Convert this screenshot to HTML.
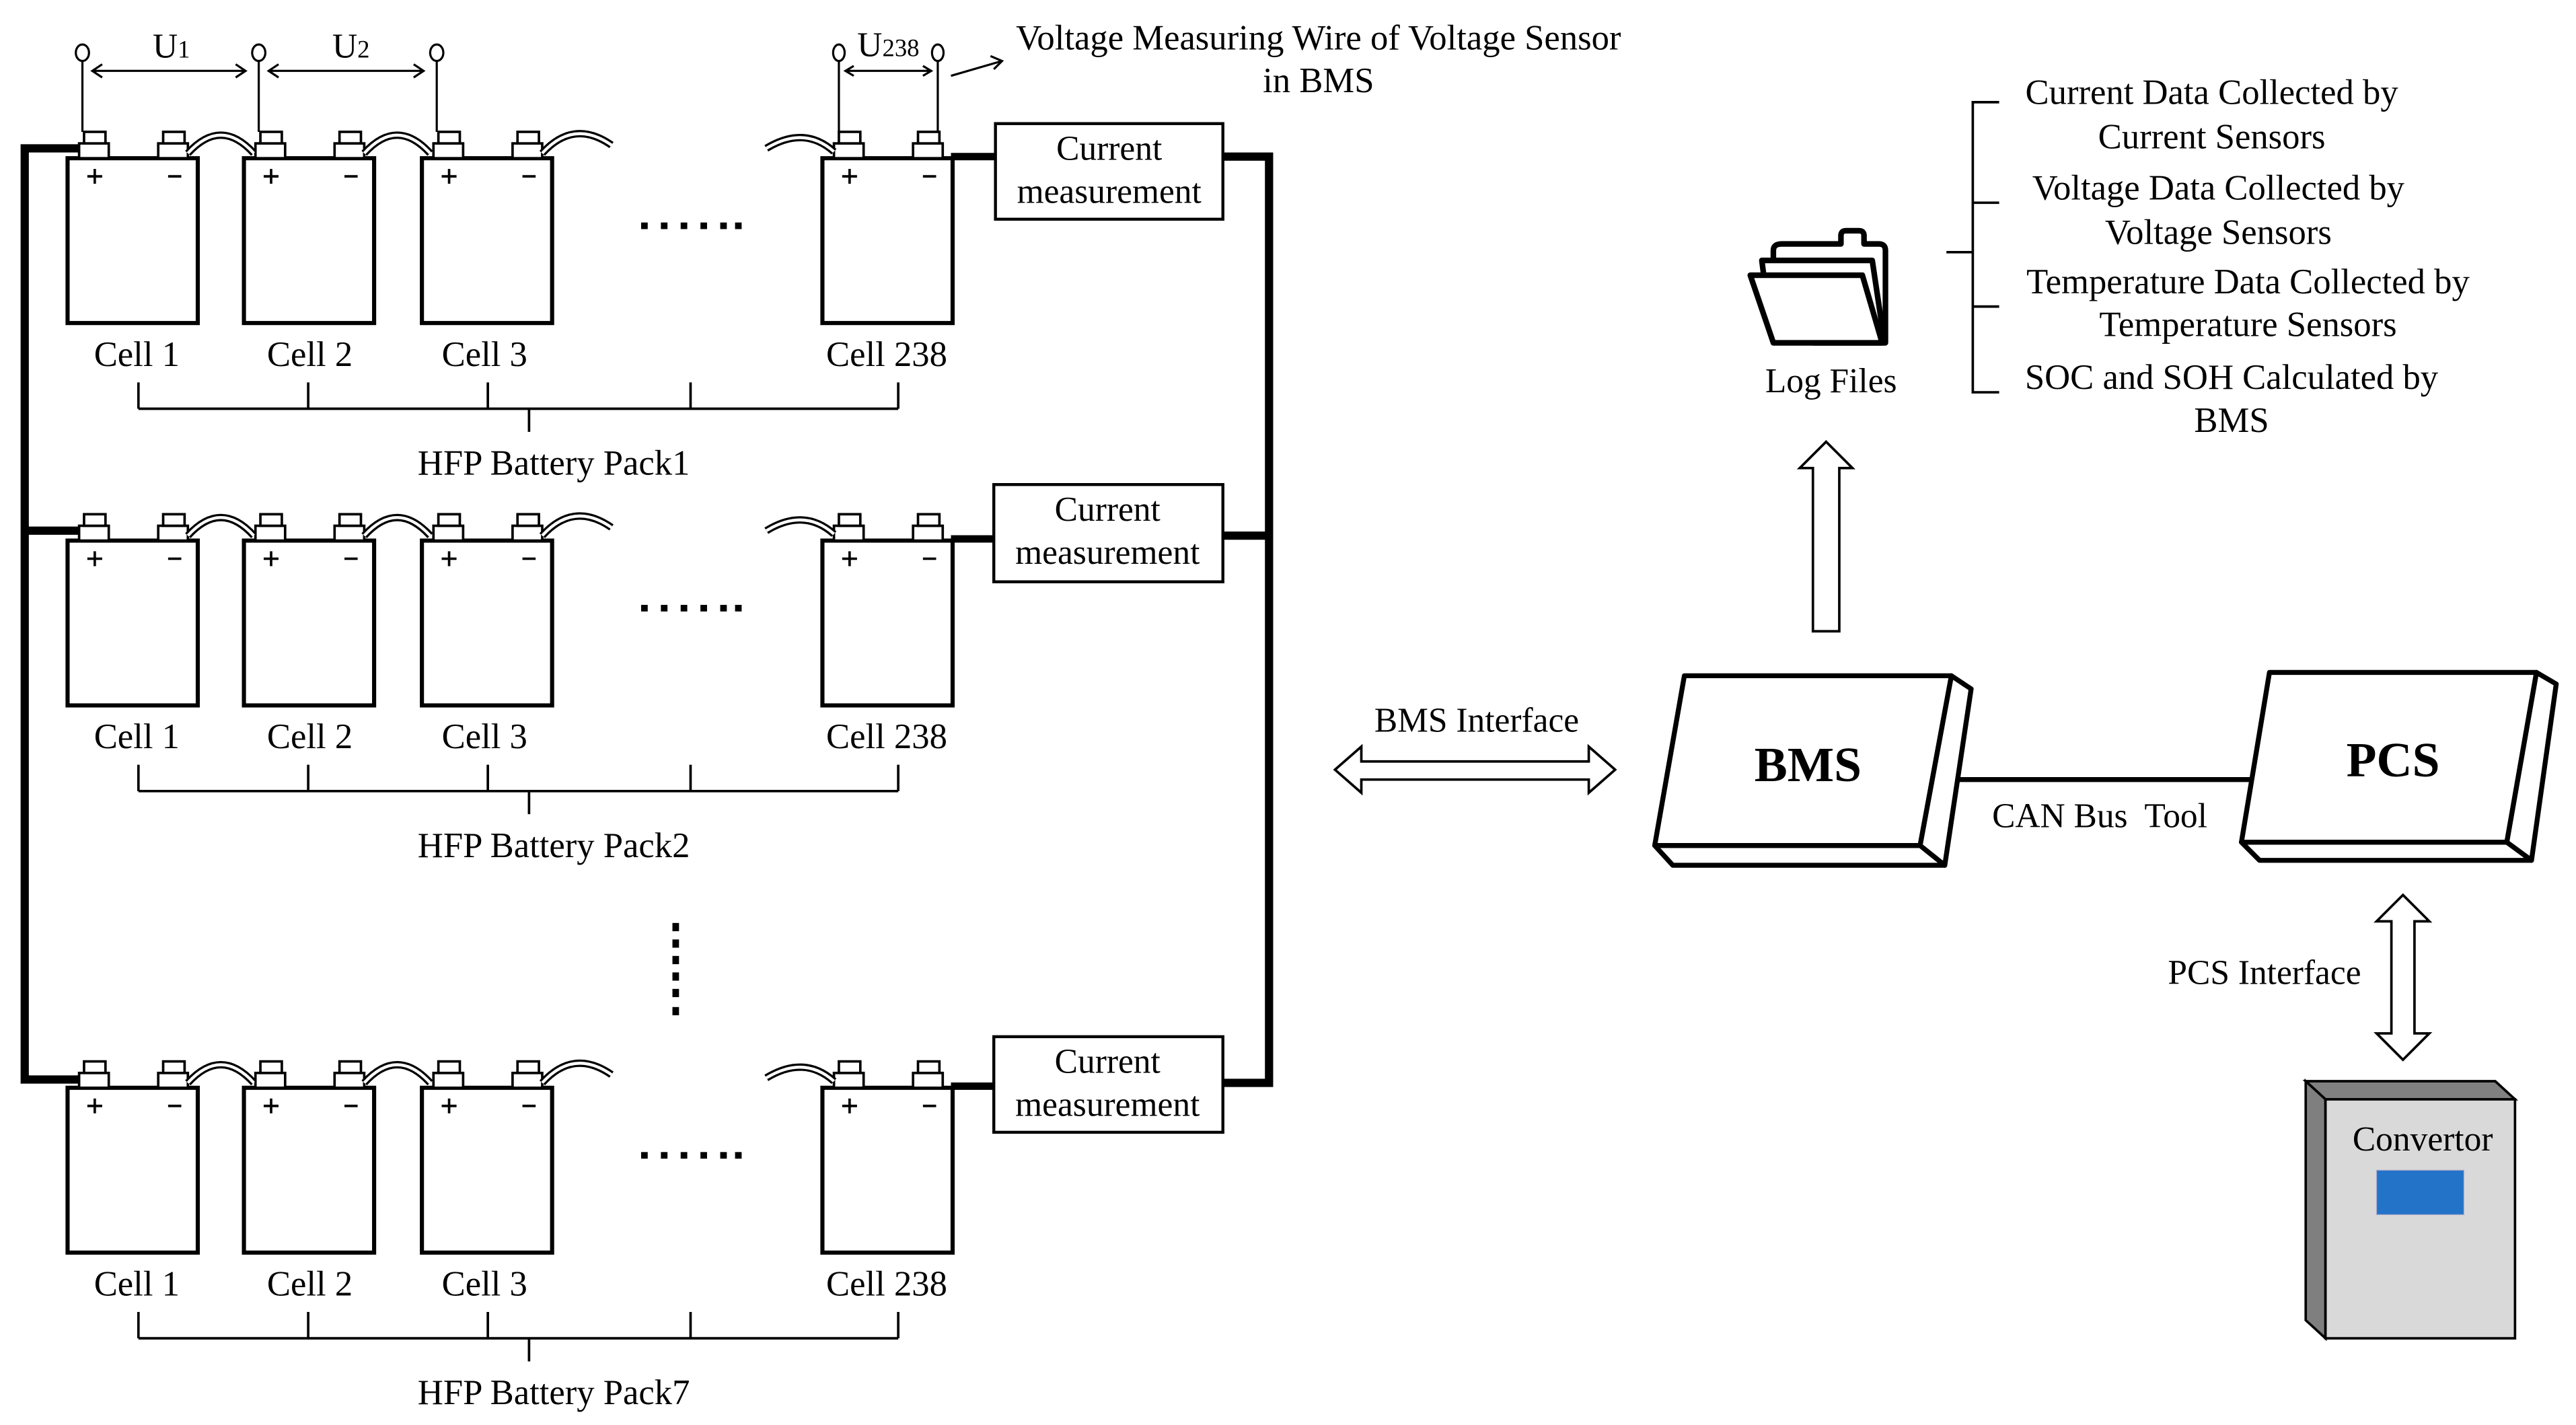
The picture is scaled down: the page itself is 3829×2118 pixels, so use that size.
<!DOCTYPE html>
<html><head><meta charset="utf-8"><style>
html,body{margin:0;padding:0;background:#fff;}
svg{display:block;}
text{font-family:"Liberation Serif",serif;fill:#000;}
</style></head><body>
<svg width="3829" height="2118" viewBox="0 0 1563 864.6" preserveAspectRatio="none" xmlns="http://www.w3.org/2000/svg">
<defs>
<g id="cell">
  <rect x="0" y="0" width="79" height="100" fill="#fff" stroke="#000" stroke-width="2.5"/>
  <rect x="7" y="-9" width="18" height="9" fill="#fff" stroke="#000" stroke-width="1.5"/>
  <rect x="10" y="-16" width="13" height="7" fill="#fff" stroke="#000" stroke-width="1.5"/>
  <rect x="55" y="-9" width="18" height="9" fill="#fff" stroke="#000" stroke-width="1.5"/>
  <rect x="58" y="-16" width="13" height="7" fill="#fff" stroke="#000" stroke-width="1.5"/>
  <path d="M12 11 h9 M16.5 6.5 v9" stroke="#000" stroke-width="1.5"/>
  <path d="M61 11 h8" stroke="#000" stroke-width="1.5"/>
</g>
<g id="wire">
  <path d="M0 0 Q20 -22 40 0" fill="none" stroke="#000" stroke-width="4.5"/>
  <path d="M0 0 Q20 -22 40 0" fill="none" stroke="#fff" stroke-width="1.8"/>
</g>
<g id="pack">
  <use href="#cell" x="41" y="96"/>
  <use href="#cell" x="148" y="96"/>
  <use href="#cell" x="256" y="96"/>
  <use href="#cell" x="499" y="96"/>
  <use href="#wire" x="114" y="93"/>
  <use href="#wire" x="221" y="93"/>
  <path d="M329 93 Q348 72 371 88" fill="none" stroke="#000" stroke-width="4.5"/>
  <path d="M329 93 Q348 72 371 88" fill="none" stroke="#fff" stroke-width="1.8"/>
  <path d="M465 90 Q488 76 506 92" fill="none" stroke="#000" stroke-width="4.5"/>
  <path d="M465 90 Q488 76 506 92" fill="none" stroke="#fff" stroke-width="1.8"/>
  <g fill="#000">
    <rect x="389" y="135" width="4" height="4"/><rect x="401" y="135" width="4" height="4"/><rect x="413" y="135" width="4" height="4"/>
    <rect x="425" y="135" width="4" height="4"/><rect x="437" y="135" width="4" height="4"/><rect x="446" y="135" width="4" height="4"/>
  </g>
  <path d="M84 248 H545 M84 232 V248 M187 232 V248 M296 232 V248 M419 232 V248 M545 232 V248 M321 248 V262" stroke="#000" stroke-width="1.5" fill="none"/>
  <path d="M577 95 H604" stroke="#000" stroke-width="4.5"/>
</g>
</defs>

<!-- rails -->
<path d="M50 90 H15 V655 H50" fill="none" stroke="#000" stroke-width="5"/>
<path d="M15 322 H50" stroke="#000" stroke-width="5"/>
<path d="M742 95 H770 V657 H742" fill="none" stroke="#000" stroke-width="5"/>
<path d="M742 325 H770" stroke="#000" stroke-width="5"/>

<use href="#pack" x="0" y="0"/>
<use href="#pack" x="0" y="232"/>
<use href="#pack" x="0" y="564"/>

<!-- current measurement boxes -->
<rect x="604" y="75" width="138" height="58" fill="#fff" stroke="#000" stroke-width="1.8"/>
<rect x="603" y="294" width="139" height="59" fill="#fff" stroke="#000" stroke-width="1.8"/>
<rect x="603" y="629" width="139" height="58" fill="#fff" stroke="#000" stroke-width="1.8"/>
<g font-size="21" text-anchor="middle">
<text x="673" y="97">Current</text><text x="673" y="123">measurement</text>
<text x="672" y="316">Current</text><text x="672" y="342">measurement</text>
<text x="672" y="651">Current</text><text x="672" y="677">measurement</text>
</g>

<!-- labels -->
<g font-size="21.5" text-anchor="middle">
<text x="83" y="222">Cell 1</text><text x="188" y="222">Cell 2</text><text x="294" y="222">Cell 3</text><text x="538" y="222">Cell 238</text>
<text x="336" y="288">HFP Battery Pack1</text>
<text x="83" y="454">Cell 1</text><text x="188" y="454">Cell 2</text><text x="294" y="454">Cell 3</text><text x="538" y="454">Cell 238</text>
<text x="336" y="520">HFP Battery Pack2</text>
<text x="83" y="786">Cell 1</text><text x="188" y="786">Cell 2</text><text x="294" y="786">Cell 3</text><text x="538" y="786">Cell 238</text>
<text x="336" y="852">HFP Battery Pack7</text>
</g>

<!-- vertical dots -->
<g fill="#000">
<rect x="408" y="560" width="4" height="5"/><rect x="408" y="570" width="4" height="5"/><rect x="408" y="580" width="4" height="5"/>
<rect x="408" y="590" width="4" height="5"/><rect x="408" y="600" width="4" height="5"/><rect x="408" y="611" width="4" height="5"/>
</g>

<!-- voltage wires -->
<g stroke="#000" stroke-width="1.3" fill="#fff">
<path d="M50 80 V37 M157 80 V37 M265 80 V37 M509 80 V37 M569 80 V37" fill="none"/>
<ellipse cx="50" cy="32" rx="4" ry="5"/><ellipse cx="157" cy="32" rx="4" ry="5"/><ellipse cx="265" cy="32" rx="4" ry="5"/>
<ellipse cx="509" cy="32" rx="3.5" ry="5"/><ellipse cx="569" cy="32" rx="3.5" ry="5"/>
<path d="M56 43 H149 M62 39 L56 43 L62 47 M143 39 L149 43 L143 47" fill="none"/>
<path d="M163 43 H257 M169 39 L163 43 L169 47 M251 39 L257 43 L251 47" fill="none"/>
<path d="M513 43 H565 M518 40 L513 43 L518 46 M560 40 L565 43 L560 46" fill="none"/>
<path d="M577 46 L608 37 M601 34 L608 37 L603 42" fill="none"/>
</g>
<g font-size="21" text-anchor="middle">
<text x="104" y="35">U<tspan font-size="15">1</tspan></text>
<text x="213" y="35">U<tspan font-size="15">2</tspan></text>
<text x="539" y="34">U<tspan font-size="15">238</tspan></text>
<text x="800" y="30" font-size="21.5">Voltage Measuring Wire of Voltage Sensor</text>
<text x="800" y="56" font-size="21.5">in BMS</text>
</g>

<!-- BMS interface arrow -->
<path d="M810 467 L826 453 V462 H964 V453 L980 467 L964 481 V473 H826 V481 Z" fill="#fff" stroke="#000" stroke-width="1.5"/>
<text x="896" y="444" font-size="21" text-anchor="middle">BMS Interface</text>

<!-- BMS / PCS boxes -->
<g stroke="#000" stroke-width="3" fill="#fff" stroke-linejoin="round">
<path d="M1184 410 L1196 418 L1180 525 L1165 513 Z"/>
<path d="M1004 513 L1165 513 L1180 525 L1015 525 Z"/>
<path d="M1022 410 L1184 410 L1165 513 L1004 513 Z"/>
<path d="M1539 408 L1551 415 L1536 522 L1521 511 Z"/>
<path d="M1360 511 L1521 511 L1536 522 L1371 522 Z"/>
<path d="M1377 408 L1539 408 L1521 511 L1360 511 Z"/>
</g>
<path d="M1187 473 H1366" stroke="#000" stroke-width="3"/>
<text x="1097" y="474" font-size="30" font-weight="bold" text-anchor="middle">BMS</text>
<text x="1452" y="471" font-size="30" font-weight="bold" text-anchor="middle">PCS</text>
<text x="1274" y="502" font-size="21" text-anchor="middle" xml:space="preserve">CAN Bus  Tool</text>

<!-- PCS interface arrow -->
<path d="M1458 543 L1474 559 H1465 V627 H1474 L1458 643 L1442 627 H1451 V559 H1442 Z" fill="#fff" stroke="#000" stroke-width="1.5"/>
<text x="1374" y="597" font-size="21" text-anchor="middle">PCS Interface</text>

<!-- Convertor -->
<path d="M1399 656 L1514 656 L1526 667 L1411 667 Z" fill="#808080" stroke="#000" stroke-width="1.5"/>
<path d="M1399 656 L1411 667 L1411 812 L1399 801 Z" fill="#7f7f7f" stroke="#000" stroke-width="1.5"/>
<rect x="1411" y="667" width="115" height="145" fill="#d9d9d9" stroke="#000" stroke-width="1.5"/>
<rect x="1442" y="710" width="53" height="27" fill="#2373c8" stroke="#aac" stroke-width="0.5"/>
<text x="1470" y="698" font-size="21" text-anchor="middle">Convertor</text>

<!-- up arrow -->
<path d="M1108 268 L1124 284 H1116 V383 H1100 V284 H1092 Z" fill="#fff" stroke="#000" stroke-width="1.5"/>

<!-- folder -->
<g fill="#fff" stroke="#000" stroke-width="3.4" stroke-linejoin="round">
<path d="M1076 160 V152 Q1076 148 1081 148 H1117 V143 Q1117 140 1120 140 H1128 Q1131 140 1131 143 V148 H1140 Q1144 148 1144 152 V208 H1100 Z"/>
<path d="M1069 158 H1136 L1143 205 H1075 Z"/>
<path d="M1062 167 H1130 L1142 208 H1076 Z"/>
</g>
<text x="1111" y="238" font-size="21" text-anchor="middle">Log Files</text>

<!-- data bracket -->
<path d="M1213 62 H1197 V238 H1213 M1197 123 H1213 M1197 186 H1213 M1181 153 H1197" fill="none" stroke="#000" stroke-width="1.5"/>
<g font-size="21.5" text-anchor="middle">
<text x="1342" y="63">Current Data Collected by</text>
<text x="1342" y="90">Current Sensors</text>
<text x="1346" y="121">Voltage Data Collected by</text>
<text x="1346" y="148">Voltage Sensors</text>
<text x="1364" y="178">Temperature Data Collected by</text>
<text x="1364" y="204">Temperature Sensors</text>
<text x="1354" y="236">SOC and SOH Calculated by</text>
<text x="1354" y="262">BMS</text>
</g>
</svg>
</body></html>
